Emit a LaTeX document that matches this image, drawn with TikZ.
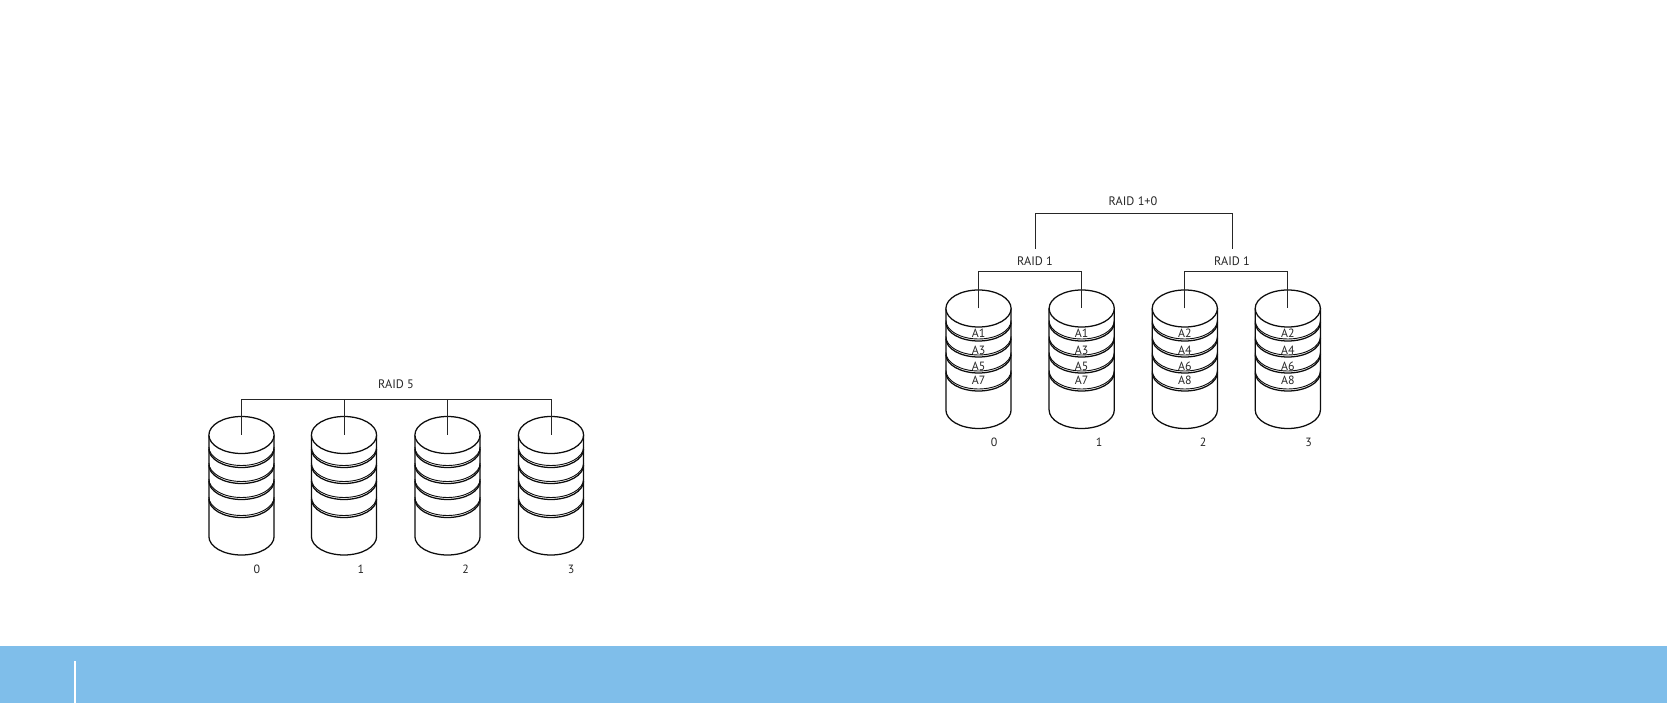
\documentclass[tikz,border=0pt]{standalone}
\usepackage{fontspec}
\setmainfont{PT Sans}
\usepackage{xcolor}
\usepackage{tikz}
\usetikzlibrary{calc}
\definecolor{bandblue}{HTML}{7FBEEA}

% one disk: top face centre at (#1), arcs below it
\newcommand{\raiddisk}[1]{%
    \begin{scope}[shift={(#1)}]
        \draw[fill=white, diskline] (-32.6, 0) -- (-32.6, -101.5) arc[start angle=180, end angle=360, x radius=32.6, y radius=18.5] -- (32.6, 0);
        \foreach \d in {-14, -30, -46, -64} {
            \draw[diskline] (-32.6, \d) arc[start angle=180, end angle=360, x radius=32.6, y radius=18.5];
            \draw[diskline, line width=1.3pt] (-32.6, \d+2) arc[start angle=180, end angle=360, x radius=32.6, y radius=18.5];
        }
        \draw[diskline, fill=white] (0, 0) ellipse (32.6 and 18.5);
    \end{scope}
}

\begin{document}
\begin{tikzpicture}[
    x=0.05cm, y=0.05cm,
    diskline/.style={line width=1.8pt, draw=black!95},
    wire/.style={line width=1.3pt, draw=black!85},
    raidlabel/.style={font=\fontsize{17.5}{20}\selectfont, text=black!85, inner sep=0pt},
    datalabel/.style={font=\fontsize{17}{20}\selectfont, text=black!85, inner sep=0pt}
]
    \useasboundingbox (0, 0) rectangle (1667, 703);

    % bottom band
    \fill[bandblue] (0, 0) rectangle (1667, 57);
    \fill[white] (74, 0) rectangle (76, 42);

    % RAID 5 disks
    \foreach \n/\x in {0/241.5, 1/344, 2/447.5, 3/551} {
        \coordinate (a\n) at (\x, 268);
        \raiddisk{a\n}
    }
    \foreach \n/\x in {0/257, 1/361, 2/465.5, 3/571} {
        \node[datalabel] (al\n) at (\x, 134) {\n};
    }

    % RAID 5 wires
    \node[raidlabel] (raid5) at (396, 319) {RAID 5};
    \coordinate (busa) at (396, 303.7);
    \draw[wire] (a0) |- (busa) -| (a3);
    \draw[wire] (a1) -- (a1 |- busa);
    \draw[wire] (a2) -- (a2 |- busa);

    % RAID 1+0 disks
    \foreach \n/\x in {0/978.5, 1/1081.7, 2/1184.8, 3/1287.8} {
        \coordinate (b\n) at (\x, 394.5);
        \raiddisk{b\n}
    }
    \foreach \n/\x in {0/994, 1/1099, 2/1203, 3/1308.5} {
        \node[datalabel] (bl\n) at (\x, 261) {\n};
    }

    % block labels on the disks
    \foreach \n/\t/\u/\v/\w in {0/A1/A3/A5/A7, 1/A1/A3/A5/A7, 2/A2/A4/A6/A8, 3/A2/A4/A6/A8} {
        \node[datalabel] (bt\n) at ($(b\n)+(0,-25)$) {\t};
        \node[datalabel] (bu\n) at ($(b\n)+(0,-41.5)$) {\u};
        \node[datalabel] (bv\n) at ($(b\n)+(0,-57.5)$) {\v};
        \node[datalabel] (bw\n) at ($(b\n)+(0,-72)$) {\w};
    }

    % RAID 1 wires
    \node[raidlabel] (raidl) at (1035, 442) {RAID 1};
    \node[raidlabel] (raidr) at (1232, 442) {RAID 1};
    \coordinate (busl) at (1035, 431.3);
    \coordinate (busr) at (1232, 431.3);
    \draw[wire] (b0) |- (busl) -| (b1);
    \draw[wire] (b2) |- (busr) -| (b3);

    % RAID 1+0 wires
    \node[raidlabel] (raidtop) at (1133, 501.5) {RAID 1+0};
    \coordinate (bust) at (1133, 489.7);
    \coordinate (dropl) at (1035, 454);
    \coordinate (dropr) at (1232, 454);
    \draw[wire] (dropl) |- (bust) -| (dropr);
\end{tikzpicture}
\end{document}
